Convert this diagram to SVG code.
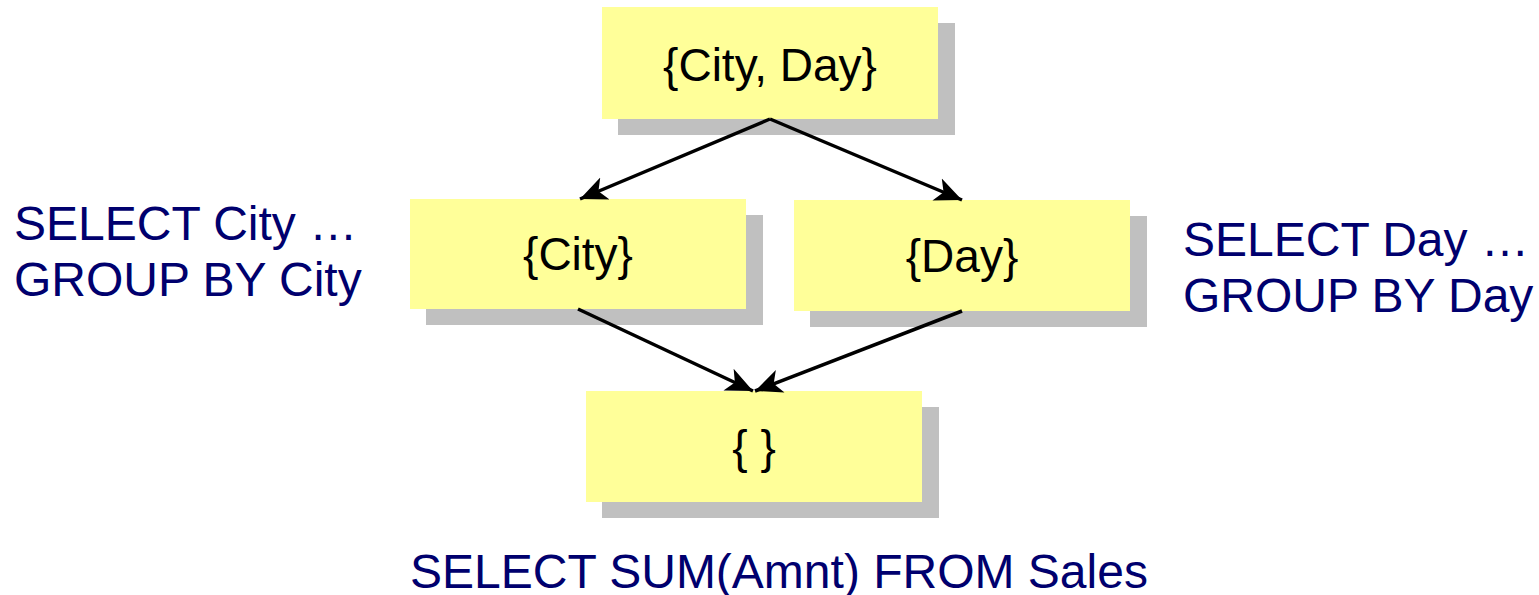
<svg xmlns="http://www.w3.org/2000/svg" width="1539" height="595" viewBox="0 0 1539 595">
<style>
.shadow{fill:#C0C0C0}
.box{fill:#FFFF99}
.nt{font-family:"Liberation Sans",Arial,sans-serif;font-size:46px;fill:#000;text-anchor:middle}
.lbl{font-family:"Liberation Sans",Arial,sans-serif;font-size:48px;fill:#00006E}
.conn{stroke:#000;stroke-width:3.5;fill:none;marker-end:url(#ah)}
</style>
<defs>
<marker id="ah" markerUnits="userSpaceOnUse" markerWidth="28" markerHeight="26" viewBox="0 0 28 26" refX="27" refY="13" orient="auto">
<path d="M0,1 L27,13 L0,25 L7,13 Z" fill="#000"/>
</marker>
</defs>
<rect width="1539" height="595" fill="#fff"/>
<g id="node-cityday">
<rect class="shadow" x="618" y="23" width="337" height="112"/>
<rect class="box" x="602" y="7" width="336" height="112"/>
<text class="nt" x="770" y="81">{City, Day}</text>
</g>
<g id="node-city">
<rect class="shadow" x="426" y="215" width="337" height="110"/>
<rect class="box" x="410" y="199" width="336" height="110"/>
<text class="nt" x="578" y="270">{City}</text>
</g>
<g id="node-day">
<rect class="shadow" x="810" y="216" width="337" height="111"/>
<rect class="box" x="794" y="200" width="336" height="111"/>
<text class="nt" x="962" y="272">{Day}</text>
</g>
<g id="node-empty">
<rect class="shadow" x="602" y="407" width="337" height="111"/>
<rect class="box" x="586" y="391" width="336" height="111"/>
<text class="nt" x="754" y="463">{ }</text>
</g>
<g id="connectors">
<line class="conn" x1="770" y1="119" x2="580" y2="199"/>
<line class="conn" x1="770" y1="119" x2="962" y2="200"/>
<line class="conn" x1="578" y1="309" x2="753" y2="391"/>
<line class="conn" x1="962" y1="311" x2="755" y2="391"/>
</g>
<g id="labels">
<text class="lbl" x="14" y="240">SELECT City …</text>
<text class="lbl" x="14" y="296">GROUP BY City</text>
<text class="lbl" x="1183" y="256">SELECT Day …</text>
<text class="lbl" x="1183" y="312">GROUP BY Day</text>
<text class="lbl" x="410" y="588">SELECT SUM(Amnt) FROM Sales</text>
</g>
</svg>
